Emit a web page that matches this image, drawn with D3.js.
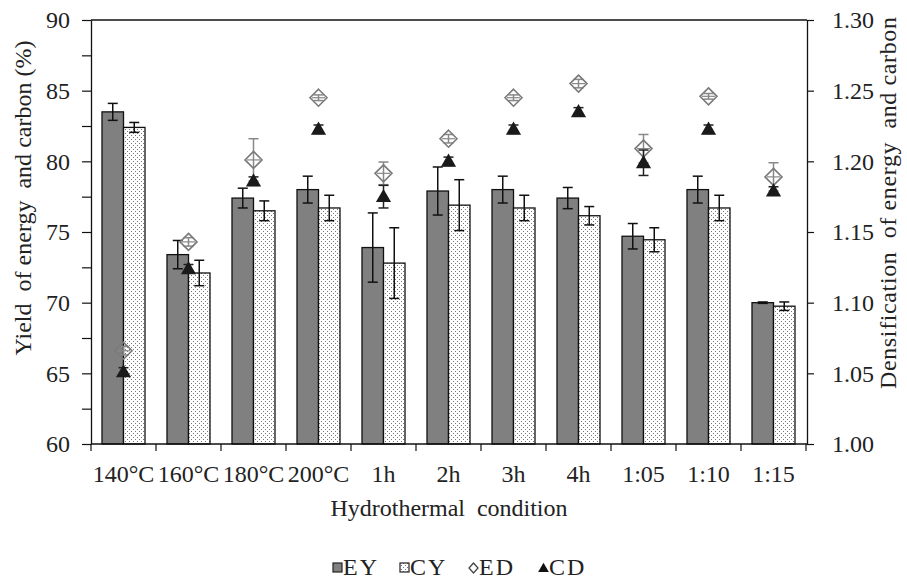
<!DOCTYPE html>
<html>
<head>
<meta charset="utf-8">
<script src="https://cdn.jsdelivr.net/npm/d3@7"></script>
<style>
  body { margin: 0; background: #fff; }
  svg { display: block; }
  text { font-family: "Liberation Serif", "Times New Roman", serif; fill: #222; }
</style>
</head>
<body>
<svg id="chart_svg" width="907" height="581"></svg>
<script>
// categories and series
var categories = ["140°C", "160°C", "180°C", "200°C", "1h", "2h", "3h", "4h", "1:05", "1:10", "1:15"];

var EY     = [83.5, 73.4, 77.4, 78.0, 73.9, 77.9, 78.0, 77.4, 74.7, 78.0, 70.0];
var EY_err = [0.6, 1.0, 0.7, 0.95, 2.45, 1.7, 0.95, 0.75, 0.9, 0.95, 0.05];
var CY     = [82.4, 72.1, 76.5, 76.7, 72.8, 76.9, 76.7, 76.15, 74.45, 76.7, 69.75];
var CY_err = [0.35, 0.9, 0.7, 0.9, 2.5, 1.8, 0.9, 0.65, 0.85, 0.9, 0.3];

var ED     = [1.066, 1.143, 1.201, 1.245, 1.1915, 1.216, 1.245, 1.255, 1.209, 1.246, 1.189];
var ED_err = [0.003, 0.003, 0.015, 0.002, 0.008, 0.003, 0.002, 0.003, 0.010, 0.002, 0.010];
var CD     = [1.051, 1.124, 1.186, 1.2227, 1.175, 1.200, 1.2227, 1.235, 1.199, 1.2227, 1.179];
var CD_err = [0.003, 0.003, 0.003, 0.003, 0.008, 0.003, 0.003, 0.003, 0.009, 0.003, 0.003];

var leftTicks = [60, 65, 70, 75, 80, 85, 90];
var rightTicks = [1.00, 1.05, 1.10, 1.15, 1.20, 1.25, 1.30];

var legendItems = ["EY", "CY", "ED", "CD"];

make_chart = function () {

    var margin = { top: 20, right: 100, bottom: 137, left: 91 };
    var width = 907, height = 581;
    var fs = 24;

    var svg = d3.select("#chart_svg");

    // dotted fill for CY
    var pat = svg.append("defs").append("pattern")
        .attr("id", "dots")
        .attr("patternUnits", "userSpaceOnUse")
        .attr("width", 4).attr("height", 4);
    pat.append("rect").attr("width", 4).attr("height", 4).attr("fill", "#fff");
    pat.append("rect").attr("x", 1).attr("y", 1).attr("width", 1).attr("height", 1).attr("fill", "#777");
    pat.append("rect").attr("x", 3).attr("y", 3).attr("width", 1).attr("height", 1).attr("fill", "#777");

    var x = d3.scaleBand()
        .domain(categories)
        .range([margin.left, 806]);

    var sub = d3.scaleBand()
        .domain(["EY", "CY"])
        .range([11, x.bandwidth() - 11]);

    var y = d3.scaleLinear()
        .domain([60, 90])
        .range([height - margin.bottom, margin.top]);

    var y2 = d3.scaleLinear()
        .domain([1.0, 1.3])
        .range([height - margin.bottom, margin.top]);

    var rows = categories.map(function (c, i) {
        return { cat: c, EY: EY[i], EYe: EY_err[i], CY: CY[i], CYe: CY_err[i],
                 ED: ED[i], EDe: ED_err[i], CD: CD[i], CDe: CD_err[i] };
    });

    // bars
    var bars = svg.append("g");
    bars.selectAll("rect.ey")
        .data(rows)
        .join("rect")
        .attr("class", "ey")
        .attr("x", d => x(d.cat) + sub("EY"))
        .attr("width", sub.bandwidth())
        .attr("y", d => y(d.EY))
        .attr("height", d => y(60) - y(d.EY))
        .attr("fill", "#808080")
        .attr("stroke", "#111")
        .attr("stroke-width", 1.3);

    bars.selectAll("rect.cy")
        .data(rows)
        .join("rect")
        .attr("class", "cy")
        .attr("x", d => x(d.cat) + sub("CY"))
        .attr("width", sub.bandwidth())
        .attr("y", d => y(d.CY))
        .attr("height", d => y(60) - y(d.CY))
        .attr("fill", "url(#dots)")
        .attr("stroke", "#111")
        .attr("stroke-width", 1.3);

    var errBar = function (g, cx, v, e, scale, color) {
        var cap = 5;
        g.append("line").attr("x1", cx).attr("x2", cx)
            .attr("y1", scale(v + e)).attr("y2", scale(v - e))
            .attr("stroke", color).attr("stroke-width", 1.5);
        [v + e, v - e].forEach(function (w) {
            g.append("line").attr("x1", cx - cap).attr("x2", cx + cap)
                .attr("y1", scale(w)).attr("y2", scale(w))
                .attr("stroke", color).attr("stroke-width", 1.5);
        });
    };

    var eg = svg.append("g");
    rows.forEach(function (d) {
        errBar(eg, x(d.cat) + sub("EY") + sub.bandwidth() / 2, d.EY, d.EYe, y, "#111");
        errBar(eg, x(d.cat) + sub("CY") + sub.bandwidth() / 2, d.CY, d.CYe, y, "#111");
    });

    // densification points on the right axis
    var pg = svg.append("g");
    rows.forEach(function (d) {
        var cx = x(d.cat) + x.bandwidth() / 2;
        errBar(pg, cx, d.ED, d.EDe, y2, "#888");
        var cy = y2(d.ED), r = 8.5;
        pg.append("path")
            .attr("d", `M${cx},${cy - r}L${cx + r},${cy}L${cx},${cy + r}L${cx - r},${cy}Z`)
            .attr("fill", "none")
            .attr("stroke", "#7a7a7a")
            .attr("stroke-width", 1.6);
        pg.append("line").attr("x1", cx - r + 2).attr("x2", cx + r - 2)
            .attr("y1", cy).attr("y2", cy)
            .attr("stroke", "#888").attr("stroke-width", 1.2);
    });
    rows.forEach(function (d) {
        var cx = x(d.cat) + x.bandwidth() / 2;
        errBar(pg, cx, d.CD, d.CDe, y2, "#222");
        pg.append("path")
            .attr("transform", `translate(${cx},${y2(d.CD) + 1})`)
            .attr("d", d3.symbol().type(d3.symbolTriangle).size(100))
            .attr("fill", "#1a1a1a");
    });

    // frame line at top
    svg.append("line")
        .attr("x1", margin.left).attr("x2", 807)
        .attr("y1", margin.top).attr("y2", margin.top)
        .attr("stroke", "#111").attr("stroke-width", 1.3);

    // left axis
    var yAxis = g => g
        .attr("transform", `translate(${margin.left},0)`)
        .call(d3.axisLeft(y).tickValues(d3.range(60, 90.1, 2.5)).tickSize(9).tickSizeOuter(0)
            .tickFormat(v => leftTicks.includes(v) ? v : ""))
        .call(g => g.select(".domain").attr("stroke", "#111").attr("stroke-width", 1.3))
        .call(g => g.selectAll(".tick line").attr("stroke", "#111").attr("stroke-width", 1.2))
        .call(g => g.selectAll(".tick text").attr("x", -21).attr("font-size", fs)
            .attr("font-family", "Liberation Serif").attr("fill", "#222"));
    svg.append("g").call(yAxis);

    // right axis
    var yAxis2 = g => g
        .attr("transform", `translate(807,0)`)
        .call(d3.axisRight(y2).tickValues(rightTicks).tickSize(7).tickSizeOuter(0)
            .tickFormat(d3.format(".2f")))
        .call(g => g.select(".domain").attr("stroke", "#111").attr("stroke-width", 1.3))
        .call(g => g.selectAll(".tick line").attr("stroke", "#111").attr("stroke-width", 1.2))
        .call(g => g.selectAll(".tick text").attr("x", 25).attr("font-size", fs)
            .attr("font-family", "Liberation Serif").attr("fill", "#222"));
    svg.append("g").call(yAxis2);

    // bottom axis, ticks on category boundaries
    var bounds = categories.map(c => x(c)).concat([x.range()[1]]);
    var xg = svg.append("g");
    xg.append("line")
        .attr("x1", margin.left).attr("x2", 807)
        .attr("y1", y(60)).attr("y2", y(60))
        .attr("stroke", "#111").attr("stroke-width", 1.3);
    xg.selectAll("line.tk")
        .data(bounds)
        .join("line")
        .attr("class", "tk")
        .attr("x1", d => d).attr("x2", d => d)
        .attr("y1", y(60)).attr("y2", y(60) + 7)
        .attr("stroke", "#111").attr("stroke-width", 1.2);
    xg.selectAll("text")
        .data(categories)
        .join("text")
        .attr("x", d => x(d) + x.bandwidth() / 2)
        .attr("y", 482)
        .attr("text-anchor", "middle")
        .attr("font-size", fs)
        .text(d => d);

    // titles
    svg.append("text")
        .attr("x", 449).attr("y", 516)
        .attr("text-anchor", "middle")
        .attr("font-size", fs)
        .attr("xml:space", "preserve")
        .attr("textLength", 237)
        .text("Hydrothermal  condition");

    svg.append("text")
        .attr("transform", "translate(31,198) rotate(-90)")
        .attr("text-anchor", "middle")
        .attr("font-size", fs)
        .attr("xml:space", "preserve")
        .attr("textLength", 315)
        .text("Yield  of energy  and carbon (%)");

    svg.append("text")
        .attr("transform", "translate(896,203) rotate(-90)")
        .attr("text-anchor", "middle")
        .attr("font-size", fs)
        .attr("xml:space", "preserve")
        .attr("textLength", 372)
        .text("Densification  of energy  and carbon");

    // legend
    var legX = [333, 400, 469, 539];
    var lg = svg.append("g");
    legendItems.forEach(function (k, i) {
        var lx = legX[i], ly = 568;
        if (k == "EY" || k == "CY") {
            lg.append("rect").attr("x", lx).attr("y", ly - 5).attr("width", 9).attr("height", 9)
                .attr("fill", k == "EY" ? "#808080" : "url(#dots)")
                .attr("stroke", "#222").attr("stroke-width", 1.2);
        } else if (k == "ED") {
            lg.append("path")
                .attr("d", `M${lx + 4.5},${ly - 5}L${lx + 9},${ly}L${lx + 4.5},${ly + 5}L${lx},${ly}Z`)
                .attr("fill", "none").attr("stroke", "#444").attr("stroke-width", 1.3);
        } else {
            lg.append("path")
                .attr("transform", `translate(${lx + 4.5},${ly + 1})`)
                .attr("d", d3.symbol().type(d3.symbolTriangle).size(50))
                .attr("fill", "#111");
        }
        lg.append("text")
            .attr("x", lx + 10).attr("y", ly + 7)
            .attr("font-size", fs)
            .attr("letter-spacing", 2)
            .text(k);
    });
}

make_chart();
</script>
</body>
</html>
